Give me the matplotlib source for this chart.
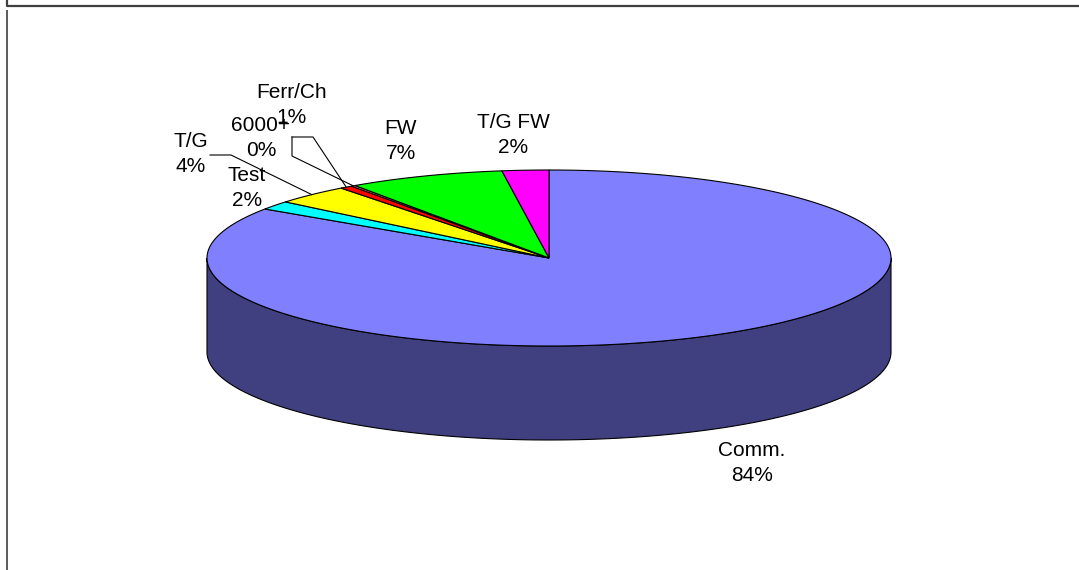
import numpy as np
import matplotlib
matplotlib.use("Agg")
import matplotlib.pyplot as plt
from matplotlib.patches import Polygon

plt.rcParams['font.family'] = ['Liberation Sans', 'DejaVu Sans']

# slices, clockwise from 12 o'clock
labels = ["Comm.", "Test", "T/G", "Ferr/Ch", "6000+", "FW", "T/G FW"]
values = [84.4, 1.6, 3.6, 0.6, 0.2, 7.4, 2.2]
colors = ["#8080FF", "#00FFFF", "#FFFF00", "#FF0000", "#FF8080", "#00FF00", "#FF00FF"]
side_colors = ["#404080", "#008080", "#808000", "#800000", "#804040", "#008000", "#800080"]

# label centres (pixels) and leader-line paths from label to slice
label_pos = [(752, 463), (247, 188), (191, 154), (292, 105), (261, 138), (401, 141), (513, 135)]
leaders = {2: [(210, 155), (231, 155)], 3: [(292, 137), (313, 137)], 4: [(292, 137), (292, 156)]}

W, H = 1079, 570
cx, cy, a, b, depth = 549, 258, 342, 88, 94

fig = plt.figure(figsize=(W / 100, H / 100), dpi=100)
ax = fig.add_axes([0, 0, 1, 1])
ax.set_xlim(0, W)
ax.set_ylim(H, 0)
ax.axis("off")


def rim(t, dy=0):
    t = np.radians(t)
    return np.column_stack([cx + a * np.sin(t), cy - b * np.cos(t) + dy])


fr = np.array(values) / sum(values)
edges = np.concatenate([[0], np.cumsum(fr) * 360])

# side wall (only the front half, 90..270 deg, is visible)
for i in range(len(values)):
    t0, t1 = max(edges[i], 90), min(edges[i + 1], 270)
    if t1 <= t0:
        continue
    t = np.linspace(t0, t1, 200)
    pts = np.vstack([rim(t), rim(t[::-1], depth)])
    ax.add_patch(Polygon(pts, closed=True, fc=side_colors[i], ec="black", lw=0.8, zorder=1))

# top face
for i in range(len(values)):
    t = np.linspace(edges[i], edges[i + 1], max(3, int((edges[i + 1] - edges[i]) * 3)))
    pts = np.vstack([[cx, cy], rim(t)])
    ax.add_patch(Polygon(pts, closed=True, fc=colors[i], ec="black", lw=0.8, zorder=2))

# labels and leader lines
for i, (lab, v) in enumerate(zip(labels, values)):
    x, y = label_pos[i]
    ax.text(x, y, f"{lab}\n{round(v * 100 / sum(values))}%", ha="center", va="center",
            fontsize=15, linespacing=1.4, zorder=4)
    if i in leaders:
        mid = (edges[i] + edges[i + 1]) / 2
        end = rim([mid])[0]
        path = np.vstack([leaders[i], end])
        ax.plot(path[:, 0], path[:, 1], color="black", lw=0.8, zorder=3)

# chart border
ax.plot([6.5, 6.5, W], [0, 5.5, 5.5], color="#404040", lw=1.6, solid_capstyle="butt")
ax.plot([6.5, 6.5], [10, H], color="#404040", lw=1.2, solid_capstyle="butt")

fig.savefig("out.png", dpi=100)
